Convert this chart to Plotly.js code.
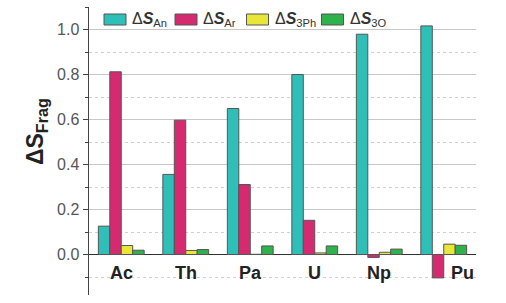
<!DOCTYPE html>
<html>
<head>
<meta charset="utf-8">
<script src="https://cdn.plot.ly/plotly-3.0.1.min.js"></script>
<style>html,body{margin:0;padding:0;background:#fff;}#chart{width:506px;height:303px;}</style>
</head>
<body>
<div id="chart"></div>
<script>
const categories = ['Ac', 'Th', 'Pa', 'U', 'Np', 'Pu'];
const seriesNames = ['Δ<b><i>S</i></b><sub>An</sub>', 'Δ<b><i>S</i></b><sub>Ar</sub>', 'Δ<b><i>S</i></b><sub>3Ph</sub>', 'Δ<b><i>S</i></b><sub>3O</sub>'];
const dS_An  = [0.126, 0.356, 0.649, 0.800, 0.979, 1.016];
const dS_Ar  = [0.812, 0.597, 0.311, 0.152, -0.013, -0.104];
const dS_3Ph = [0.040, 0.018, 0.001, 0.007, 0.010, 0.046];
const dS_3O  = [0.019, 0.022, 0.038, 0.038, 0.024, 0.041];
const colors = ['#2fbfb9', '#d62a70', '#e9e63a', '#2fb14b'];
const yTitle = '<b>ΔS</b><sub><b>Frag</b></sub>';

const values = [dS_An, dS_Ar, dS_3Ph, dS_3O];
const traces = values.map((v, i) => ({
  type: 'bar', x: categories, y: v, name: seriesNames[i], showlegend: false,
  marker: {color: colors[i], line: {color: '#555', width: 1}}
}));

// plot area in pixels (for the hand-drawn legend)
const W = 506, H = 303, ML = 89, MR = 30, MT = 7, MB = 8;
const PW = W - ML - MR, PH = H - MT - MB;
const px = p => (p - ML) / PW;
const py = p => (H - MB - p) / PH;

const font = 'Arial, "Liberation Sans", sans-serif';
const annotations = categories.map(c => ({
  x: c, y: 0, xref: 'x', yref: 'y', text: '<b>' + c + '</b>', showarrow: false,
  yanchor: 'top', yshift: -6, xshift: c === 'Pu' ? 19 : 0,
  font: {family: font, size: 18, color: '#222'}
}));
annotations.push({
  xref: 'paper', yref: 'paper', x: px(36), y: py(132), xanchor: 'center', yanchor: 'middle',
  text: yTitle, textangle: -90,
  showarrow: false, font: {family: font, size: 23, color: '#222'}
});

// legend drawn as shapes + text
const legendX = [104, 175, 246.5, 321.5];
const shapes = [];
seriesNames.forEach((n, i) => {
  shapes.push({type: 'rect', xref: 'paper', yref: 'paper',
    x0: px(legendX[i]), x1: px(legendX[i] + 22), y0: py(25), y1: py(14),
    fillcolor: colors[i], line: {color: '#555', width: 1}});
  annotations.push({xref: 'paper', yref: 'paper', x: px(legendX[i] + 26), y: py(20),
    xanchor: 'left', yanchor: 'middle', text: n, showarrow: false,
    font: {family: font, size: 16, color: '#333'}});
});

const layout = {
  width: W, height: H,
  margin: {l: ML, r: MR, t: MT, b: MB},
  paper_bgcolor: '#fff', plot_bgcolor: '#fff',
  font: {family: font, color: '#444'},
  bargap: 0.29, bargroupgap: 0,
  showlegend: false,
  xaxis: {range: [-0.5, 5.5], showticklabels: false, ticks: '', showgrid: false, showline: false, zeroline: false, fixedrange: true},
  yaxis: {range: [-0.18, 1.1], tick0: 0, dtick: 0.2, tickformat: '.1f',
    ticks: 'outside', ticklen: 5, tickcolor: '#444', tickwidth: 1,
    showline: true, linecolor: '#444', linewidth: 1.5,
    showgrid: true, gridcolor: '#c8c8c8', gridwidth: 1,
    zeroline: true, zerolinecolor: '#333', zerolinewidth: 1.5,
    tickfont: {family: font, size: 16, color: '#555'},
    minor: {dtick: 0.1, tick0: 0, showgrid: true, griddash: 'dot', gridcolor: '#d0d0d0', gridwidth: 1, ticks: 'outside', ticklen: 3, tickcolor: '#444'}
  },
  shapes: shapes,
  annotations: annotations
};

Plotly.newPlot('chart', traces, layout, {displayModeBar: false, staticPlot: true});
</script>
</body>
</html>
